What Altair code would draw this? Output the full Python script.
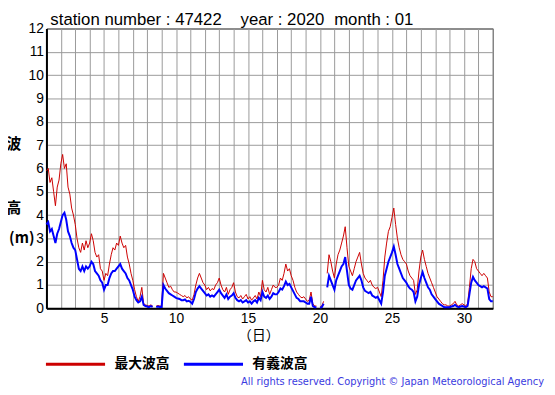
import altair as alt
import pandas as pd

NaN = float("nan")

# 3-hourly readings (00,03,...,21 h) for each day of January 2020
max_wave = [
    [5.9, 6.0, 5.4, 5.6, 5.0, 4.4, 5.2, 5.5],   # 1
    [6.2, 6.6, 6.0, 6.2, 5.2, 4.9, 4.3, 4.0],   # 2
    [3.6, 3.0, 2.6, 2.4, 2.8, 2.5, 2.9, 2.6],   # 3
    [2.8, 3.2, 2.9, 2.4, 2.2, 2.3, 1.7, 1.6],   # 4
    [1.2, 1.5, 1.4, 1.9, 2.3, 2.6, 2.5, 2.8],   # 5
    [2.7, 3.1, 2.8, 2.6, 2.7, 2.2, 1.9, 1.5],   # 6
    [1.2, 0.8, 0.5, 0.3, 0.5, 0.9, 0.2, 0.15],  # 7
    [0.12, 0.1, 0.15, 0.1, NaN, 0.1, 0.12, 0.1],  # 8
    [0.1, 1.5, 1.3, 1.1, 0.9, 0.95, 0.8, 0.7],  # 9
    [0.7, 0.65, 0.6, 0.55, 0.5, 0.55, 0.45, 0.5],  # 10
    [0.4, 0.35, 0.6, 1.0, 1.3, 1.5, 1.3, 1.1],  # 11
    [1.0, 0.8, 0.9, 0.75, 0.85, 0.8, 1.0, 1.1],  # 12
    [1.3, 1.0, 0.8, 0.7, 0.9, 0.6, 0.8, 0.9],   # 13
    [1.1, 0.7, 0.5, 0.45, 0.55, 0.4, 0.5, 0.6],  # 14
    [0.4, 0.5, 0.35, 0.45, 0.55, 0.4, 0.7, 0.5],  # 15
    [1.2, 0.8, 0.7, 0.9, 0.6, 0.8, 1.0, 0.9],   # 16
    [0.9, 1.0, 1.3, 1.2, 1.5, 1.9, 1.6, 1.7],   # 17
    [1.4, 1.2, 0.9, 0.7, 0.6, 0.5, 0.45, 0.5],  # 18
    [0.4, 0.3, 0.35, 0.7, 0.2, 0.1, 0.1, NaN],  # 19
    [0.05, 0.1, 0.3, NaN, 1.5, 2.3, 2.0, 1.6],  # 20
    [1.3, 1.9, 2.3, 2.5, 2.8, 3.1, 3.5, 2.6],   # 21
    [1.8, 1.6, 1.4, 1.7, 2.0, 2.2, 2.4, 1.9],   # 22
    [1.5, 1.3, 1.2, 1.1, 1.2, 1.0, 0.9, 0.85],  # 23
    [0.9, 0.7, 0.5, 1.2, 2.2, 2.8, 3.3, 3.5],   # 24
    [3.9, 4.3, 3.6, 3.0, 2.6, 2.3, 2.1, 2.0],   # 25
    [1.9, 1.6, 1.4, 1.3, 1.2, 0.6, 0.8, 1.6],   # 26
    [2.2, 2.5, 2.1, 1.8, 1.5, 1.3, 1.1, 0.9],   # 27
    [0.7, 0.5, 0.4, 0.3, 0.2, 0.15, 0.15, 0.1],  # 28
    [0.1, 0.15, 0.2, 0.3, 0.15, 0.1, 0.15, 0.2],  # 29
    [0.15, 0.1, 0.2, 0.9, 1.7, 2.1, 2.0, 1.7],  # 30
    [1.6, 1.5, 1.4, 1.5, 1.4, 1.3, 0.7, 0.5],   # 31
]
max_end = 0.5

sig_wave = [
    [3.6, 3.7, 3.3, 3.4, 3.1, 2.8, 3.2, 3.4],   # 1
    [3.7, 4.0, 4.1, 3.8, 3.3, 3.1, 2.8, 2.6],   # 2
    [2.5, 2.1, 1.7, 1.6, 1.8, 1.6, 1.8, 1.7],   # 3
    [1.8, 2.0, 1.9, 1.6, 1.5, 1.4, 1.2, 1.1],   # 4
    [0.8, 1.0, 1.0, 1.3, 1.5, 1.6, 1.6, 1.7],   # 5
    [1.8, 1.9, 1.7, 1.6, 1.5, 1.3, 1.2, 1.0],   # 6
    [0.8, 0.5, 0.35, 0.25, 0.3, 0.5, 0.15, 0.1],  # 7
    [0.08, 0.05, 0.1, 0.06, NaN, 0.05, 0.08, 0.06],  # 8
    [0.06, 1.0, 0.85, 0.75, 0.65, 0.6, 0.55, 0.5],  # 9
    [0.45, 0.42, 0.4, 0.35, 0.35, 0.38, 0.3, 0.32],  # 10
    [0.28, 0.2, 0.4, 0.7, 0.85, 0.95, 0.85, 0.75],  # 11
    [0.65, 0.55, 0.6, 0.5, 0.55, 0.5, 0.6, 0.7],  # 12
    [0.8, 0.65, 0.55, 0.45, 0.6, 0.4, 0.5, 0.55],  # 13
    [0.65, 0.45, 0.35, 0.3, 0.35, 0.25, 0.3, 0.35],  # 14
    [0.25, 0.3, 0.2, 0.3, 0.35, 0.25, 0.45, 0.35],  # 15
    [0.7, 0.5, 0.45, 0.55, 0.4, 0.5, 0.65, 0.6],  # 16
    [0.6, 0.7, 0.85, 0.8, 0.95, 1.15, 1.0, 1.05],  # 17
    [0.9, 0.75, 0.6, 0.45, 0.4, 0.3, 0.3, 0.3],  # 18
    [0.25, 0.2, 0.2, 0.5, 0.1, 0.05, 0.05, NaN],  # 19
    [0.03, 0.05, 0.2, NaN, 0.9, 1.4, 1.2, 1.0],  # 20
    [0.8, 1.2, 1.4, 1.6, 1.8, 1.9, 2.2, 1.6],   # 21
    [1.0, 0.85, 0.8, 1.0, 1.2, 1.3, 1.4, 1.2],  # 22
    [0.9, 0.75, 0.7, 0.65, 0.7, 0.55, 0.5, 0.45],  # 23
    [0.5, 0.35, 0.2, 0.7, 1.4, 1.7, 2.0, 2.2],  # 24
    [2.4, 2.65, 2.3, 1.9, 1.7, 1.5, 1.3, 1.2],  # 25
    [1.1, 0.95, 0.85, 0.8, 0.7, 0.3, 0.5, 1.0],  # 26
    [1.3, 1.55, 1.3, 1.1, 0.9, 0.8, 0.6, 0.5],  # 27
    [0.4, 0.3, 0.2, 0.15, 0.1, 0.05, 0.05, 0.05],  # 28
    [0.05, 0.08, 0.1, 0.15, 0.08, 0.05, 0.08, 0.1],  # 29
    [0.08, 0.05, 0.1, 0.6, 1.1, 1.35, 1.2, 1.1],  # 30
    [1.0, 0.95, 0.9, 0.95, 0.9, 0.85, 0.4, 0.3],  # 31
]
sig_end = 0.3

series_names = ["最大波高", "有義波高"]
series_colors = ["#cc0000", "#0000ff"]
x_ticks = list(range(1, 33))
y_ticks = list(range(0, 13))
title_parts = ["station number : 47422", "year : 2020", "month : 01"]
ytitle_parts = ["波", "高", "(m)"]
copyright_text = "All rights reserved. Copyright © Japan Meteorological Agency"


def build(values, end, name):
    rows = []
    per_day = len(values[0])
    for d, day in enumerate(values):
        for h, v in enumerate(day):
            rows.append({"t": 1 + d + h / per_day, "v": v, "series": name})
    rows.append({"t": 32.0, "v": end, "series": name})
    return pd.DataFrame(rows)


df_max = build(max_wave, max_end, series_names[0])
df_sig = build(sig_wave, sig_end, series_names[1])

JP = "Noto Sans CJK JP"
LAT = "Liberation Sans"

x_enc = alt.X(
    "t:Q",
    scale=alt.Scale(domain=[1, 32], nice=False, zero=False),
    axis=alt.Axis(
        values=x_ticks,
        labelExpr="datum.value % 5 == 0 ? datum.label : ''",
        ticks=False, grid=True, gridColor="#999999", gridWidth=1,
        labelFont=LAT, labelFontSize=14, labelColor="black", labelPadding=3,
        domainColor="black", domainWidth=2,
        title="（日）", titleFont=JP, titleFontSize=14, titleFontWeight="normal",
        titlePadding=4, titleX=215, titleColor="black",
    ),
)
y_enc = alt.Y(
    "v:Q",
    scale=alt.Scale(domain=[0, 12], nice=False),
    axis=alt.Axis(
        values=y_ticks, ticks=False, grid=True, gridColor="#999999", gridWidth=1,
        labelFont=LAT, labelFontSize=14, labelColor="black", labelPadding=3,
        domainColor="black", domainWidth=2, title="",
    ),
)
color_enc = alt.Color(
    "series:N",
    scale=alt.Scale(domain=series_names, range=series_colors),
    legend=alt.Legend(
        orient="none", legendX=-2, legendY=309, direction="horizontal",
        symbolType="stroke", symbolSize=3600, symbolStrokeWidth=3,
        labelFont=JP, labelFontSize=14, labelFontWeight="bold", labelColor="black",
        labelOffset=8, columnPadding=8, title="",
    ),
)

red = alt.Chart(df_max).mark_line(strokeWidth=1, invalid="break-paths-show-domains").encode(
    x=x_enc, y=y_enc, color=color_enc
)
blue = alt.Chart(df_sig).mark_line(strokeWidth=2, invalid="break-paths-show-domains").encode(
    x=x_enc, y=y_enc, color=color_enc
)

# y-axis title characters stacked vertically
ylabels = pd.DataFrame({"txt": ytitle_parts, "px": [-33, -33, -25], "py": [117, 182, 213]})
ytitle = alt.Chart(ylabels).mark_text(
    font=JP, fontSize=15, fontWeight="bold", color="black", align="center", baseline="middle"
).encode(x=alt.X("px:Q", scale=None), y=alt.Y("py:Q", scale=None), text="txt:N")

# chart title pieces
tparts = pd.DataFrame({"txt": title_parts, "px": [4, 197, 292]})
ttitle = alt.Chart(tparts).mark_text(
    font=LAT, fontSize=17, color="black", align="left", baseline="alphabetic"
).encode(x=alt.X("px:Q", scale=None), y=alt.value(-4), text="txt:N")

copy = alt.Chart(pd.DataFrame({"txt": [copyright_text]})).mark_text(
    font="DejaVu Sans", fontSize=10, color="#3a3ae0", align="right", baseline="middle"
).encode(x=alt.value(505), y=alt.value(359), text="txt:N")

chart = (
    alt.layer(red, blue, ytitle, ttitle, copy)
    .properties(
        width=453, height=284,
        autosize=alt.AutoSizeParams(type="none"),
        padding={"left": 39, "top": 18, "right": 55, "bottom": 77},
    )
    .configure_view(stroke="black", strokeWidth=1)
)

chart.save("out.html", embed_options={"renderer": "svg", "actions": False})
